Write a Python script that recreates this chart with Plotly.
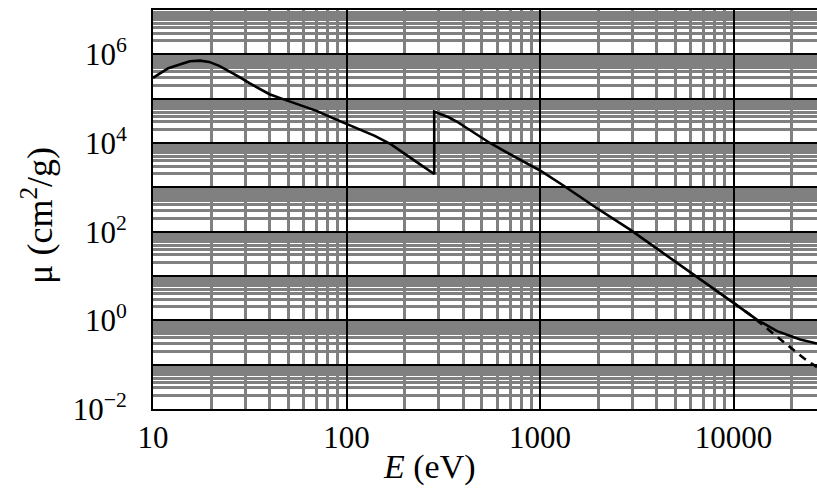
import plotly.graph_objects as go

# Mass attenuation coefficient of carbon versus photon energy
energy_ev = [10, 11, 12, 14, 15.5, 17.5, 19.5, 22, 25, 28, 31.5, 35.5, 40, 47, 57, 70, 85,
             100, 120, 140, 170, 205, 240, 284, 284, 310, 335, 371, 450, 551, 787, 1000,
             1320, 1960, 2920, 4340, 6460, 10000, 12000, 13200, 16800, 22100, 27000]
mu_total = [2.94e5, 3.75e5, 4.86e5, 6.08e5, 7.0e5, 7.21e5, 6.75e5, 5.48e5, 4.07e5, 3.05e5,
            2.23e5, 1.64e5, 1.26e5, 9.75e4, 7.24e4, 5.31e4, 3.64e4,
            2.7e4, 2.0e4, 1.45e4, 9.3e3, 5.4e3, 3.3e3, 2.0e3, 5.1e4, 4.4e4, 3.85e4, 3.05e4, 1.78e4,
            1.0e4, 4.2e3, 2.4e3, 1.1e3, 342, 111, 33, 9.8, 2.48, 1.40, 1.04, 0.57, 0.37, 0.30]

# Photoabsorption part at high energy (dashed)
energy_pe = [10000, 12000, 13700, 17400, 23000, 27000]
mu_pe = [2.48, 1.40, 0.88, 0.37, 0.141, 0.088]

x_ticks = [10, 100, 1000, 10000]
x_ticktext = ["10", "100", "1000", "10000"]
y_exponents = list(range(-2, 8))

y_tickvals = [10.0 ** n for n in y_exponents]
y_ticktext = [("10<sup>%s</sup>" % str(n).replace("-", "\u2212")) if n % 2 == 0 else ""
              for n in y_exponents]
y_minor = [k * 10.0 ** n for n in range(-2, 7) for k in range(2, 10)]
x_minor = [k * 10.0 ** n for n in range(1, 5) for k in range(2, 10) if k * 10.0 ** n < 27000]

font = dict(family="Liberation Serif, Times New Roman, serif", color="black")
grey = "#808080"

fig = go.Figure()
fig.add_trace(go.Scatter(x=energy_ev, y=mu_total, mode="lines",
                         line=dict(color="black", width=2.6), showlegend=False))
fig.add_trace(go.Scatter(x=energy_pe, y=mu_pe, mode="lines",
                         line=dict(color="black", width=2.6, dash="8px,6px"), showlegend=False))

fig.update_xaxes(
    type="log", range=[1, 4.4314],
    tickvals=x_ticks, ticktext=x_ticktext, tickfont=dict(size=31, **font),
    showgrid=True, gridcolor="black", gridwidth=2,
    minor=dict(tickvals=x_minor, showgrid=True, gridcolor=grey, gridwidth=2.5, ticks=""),
    showline=True, linecolor="black", linewidth=2, mirror=True,
    ticks="", ticklabelstandoff=0, zeroline=False,
)
fig.update_yaxes(
    type="log", range=[-2, 7],
    tickvals=y_tickvals, ticktext=y_ticktext, tickfont=dict(size=31, **font),
    showgrid=True, gridcolor="black", gridwidth=2,
    minor=dict(tickvals=y_minor, showgrid=True, gridcolor=grey, gridwidth=3, ticks=""),
    showline=True, linecolor="black", linewidth=2, mirror=False,
    ticks="", ticklabelstandoff=18, zeroline=False,
)

fig.add_annotation(text="<i>E</i> (eV)", xref="paper", yref="paper", x=0.417, y=-0.145,
                   xanchor="center", yanchor="middle", showarrow=False, font=dict(size=34, **font))
fig.add_annotation(text="\u03bc (cm<sup>2</sup>/g)", xref="paper", yref="paper", x=-0.175, y=0.486,
                   xanchor="center", yanchor="middle", textangle=-90, showarrow=False,
                   font=dict(size=36, **font))

fig.update_layout(
    width=817, height=495,
    margin=dict(l=153, r=0, t=10, b=86),
    paper_bgcolor="white", plot_bgcolor="white",
)

fig.write_html("out.html")
